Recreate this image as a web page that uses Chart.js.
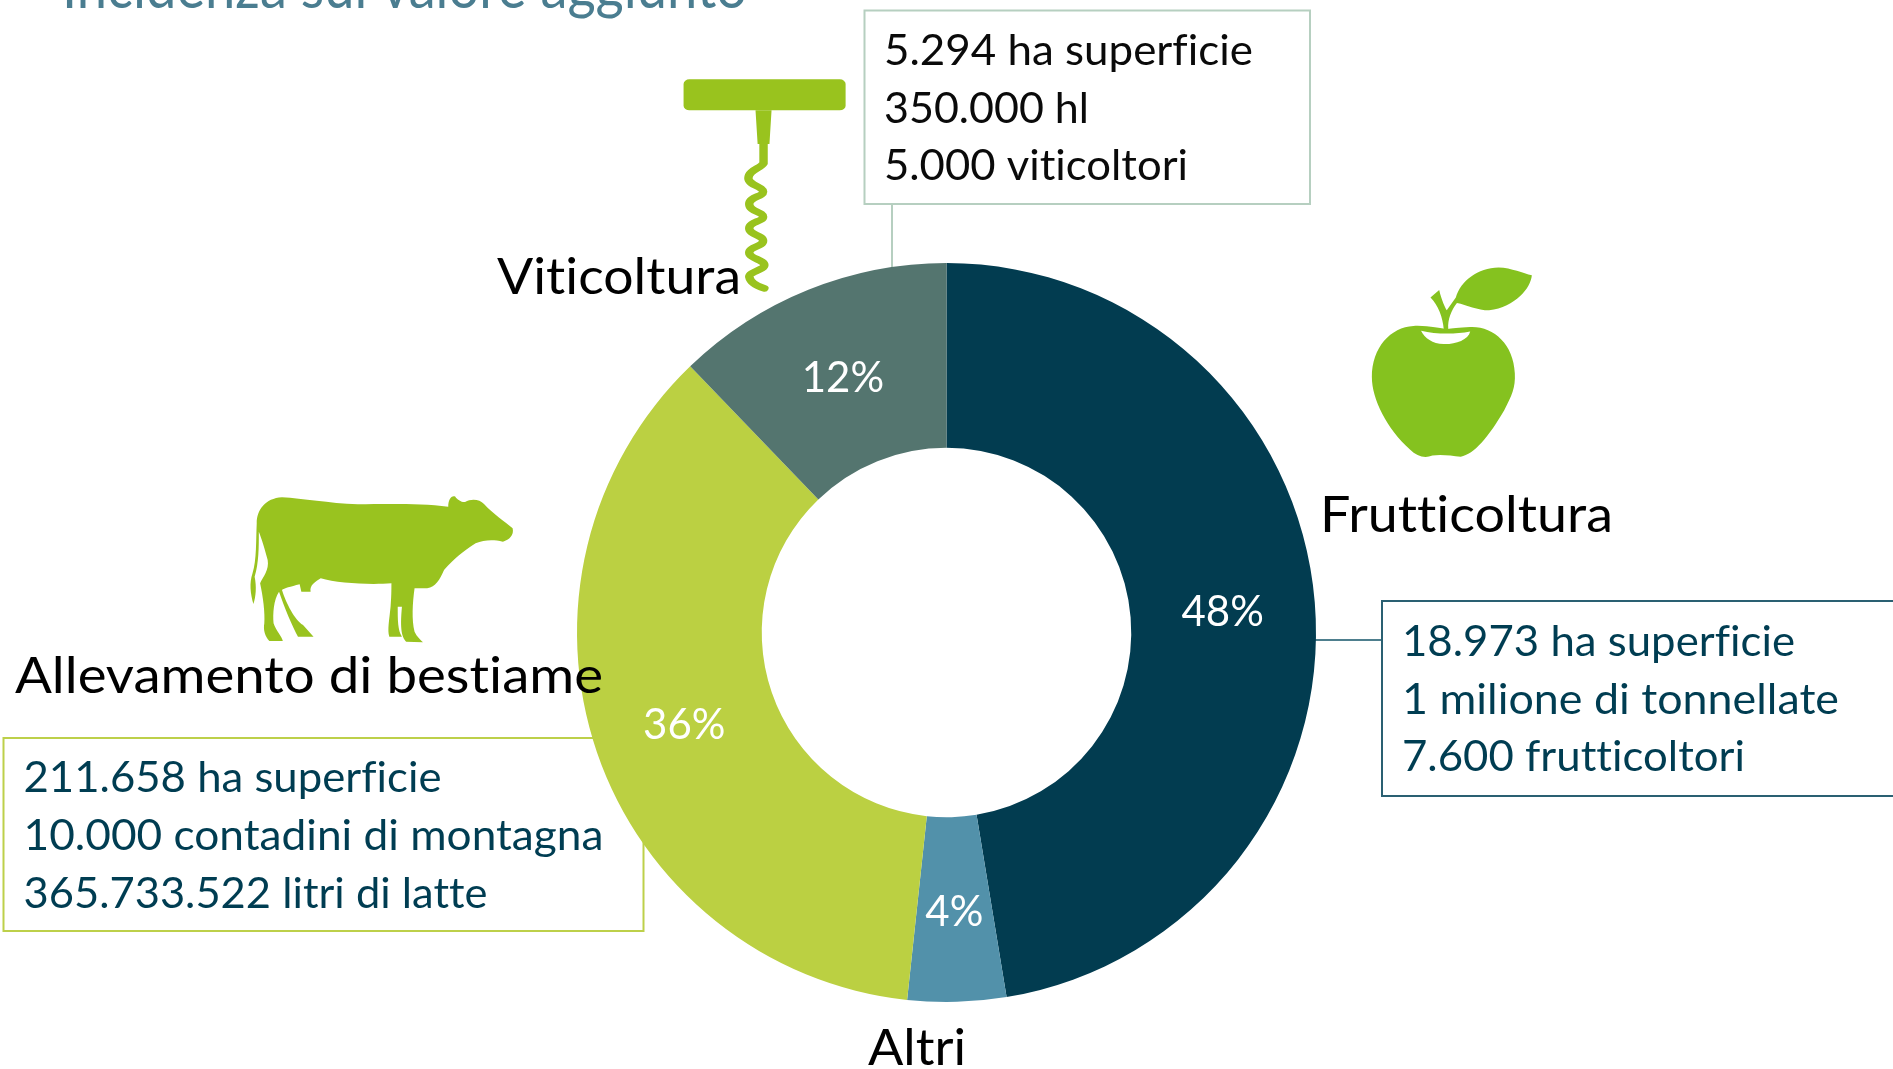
<!DOCTYPE html>
<html lang="it">
<head>
<meta charset="utf-8">
<title>Incidenza sul valore aggiunto</title>
<style>html,body{margin:0;padding:0;background:#fff;overflow:hidden}canvas{display:block}</style>
<script src="https://cdn.jsdelivr.net/npm/chart.js@4"></script>
</head>
<body>
<canvas id="c" width="1893" height="1069"></canvas>
<script>
const categories = ['Frutticoltura', 'Altri', 'Allevamento di bestiame', 'Viticoltura'];
const shares = [47.4, 4.3, 36.1, 12.2];
const percentLabels = ['48%', '4%', '36%', '12%'];
const sliceColours = ['#023c50', '#5291aa', '#bbd042', '#54756f'];
const titleText = 'Incidenza sul valore aggiunto';
const frutticolturaNotes = ['18.973 ha superficie', '1 milione di tonnellate', '7.600 frutticoltori'];
const allevamentoNotes = ['211.658 ha superficie', '10.000 contadini di montagna', '365.733.522 litri di latte'];
const viticolturaNotes = ['5.294 ha superficie', '350.000 hl', '5.000 viticoltori'];

const FONT = 'Lato, Carlito, "Open Sans", sans-serif';

function fit(ctx, text, x, y, width, size, colour) {
  ctx.save();
  ctx.font = size + 'px ' + FONT;
  ctx.letterSpacing = '0.01px';
  ctx.fillStyle = colour;
  ctx.textAlign = 'left';
  ctx.textBaseline = 'alphabetic';
  const k = width / ctx.measureText(text).width;
  ctx.translate(x, y);
  ctx.scale(k, 1);
  ctx.fillText(text, 0, 0);
  ctx.restore();
}

function drawBox(ctx, l, t, r, b, colour) {
  ctx.save();
  ctx.strokeStyle = colour;
  ctx.lineWidth = 2;
  ctx.strokeRect(l, t, r - l, b - t);
  ctx.restore();
}

function line(ctx, x1, y1, x2, y2, colour) {
  ctx.save();
  ctx.strokeStyle = colour;
  ctx.lineWidth = 2;
  ctx.beginPath();
  ctx.moveTo(x1, y1);
  ctx.lineTo(x2, y2);
  ctx.stroke();
  ctx.restore();
}

function drawIcon(ctx, ox, oy, sx, sy, fn) {
  ctx.save();
  ctx.translate(ox, oy);
  ctx.scale(1 / sx, 1 / sy);
  fn();
  ctx.restore();
}

const backdrop = {
  id: 'backdrop',
  beforeDatasetsDraw(chart) {
    const ctx = chart.ctx;
    line(ctx, 892, 204, 892, 285, '#b6cfc0');
    line(ctx, 1300, 640, 1382, 640, '#4e7f8e');
    drawBox(ctx, 864.5, 10.5, 1310, 204, '#b6cfc0');
    drawBox(ctx, 1382, 601, 1900, 796, '#2a6072');
    drawBox(ctx, 3.5, 738, 643.5, 931, '#bdd04a');
  }
};

const overlay = {
  id: 'overlay',
  afterDraw(chart) {
    const ctx = chart.ctx;
    const meta = chart.getDatasetMeta(0);
    const cx = meta.data[0].x, cy = meta.data[0].y;
    const mid = (meta.data[0].innerRadius + meta.data[0].outerRadius) / 2;

    meta.data.forEach((arc, i) => {
      const a = (arc.startAngle + arc.endAngle) / 2;
      ctx.save();
      ctx.font = '42px ' + FONT;
      ctx.fillStyle = '#ffffff';
      ctx.textAlign = 'center';
      ctx.textBaseline = 'middle';
      ctx.fillText(percentLabels[i], cx + Math.cos(a) * mid, cy + Math.sin(a) * mid + 3);
      ctx.restore();
    });

    fit(ctx, titleText, 62, 8, 685, 60, '#4a7d90');

    fit(ctx, categories[0], 1320, 532, 293, 50, '#000');
    fit(ctx, categories[1], 868, 1065, 98, 50, '#000');
    fit(ctx, categories[2], 15, 693, 588, 50, '#000');
    fit(ctx, categories[3], 497, 294, 244, 50, '#000');

    const dark = '#003d52';
    const fWidths = [393, 437, 343];
    frutticolturaNotes.forEach((t, i) => fit(ctx, t, 1402, 656 + i * 57.7, fWidths[i], 42, dark));
    const aWidths = [418, 580, 464];
    allevamentoNotes.forEach((t, i) => fit(ctx, t, 23.5, 792 + i * 58, aWidths[i], 42, dark));
    const vWidths = [369, 205, 304];
    viticolturaNotes.forEach((t, i) => fit(ctx, t, 884, 65 + i * 57.7, vWidths[i], 42, '#0a0a0a'));

    // corkscrew
    drawIcon(ctx, 660, 0, 2.376, 3, () => {
      ctx.fillStyle = '#99c31e';
      ctx.strokeStyle = '#99c31e';
      ctx.beginPath();
      ctx.roundRect(56, 238, 385, 93, 14);
      ctx.fill();
      ctx.beginPath();
      ctx.moveTo(227, 331); ctx.lineTo(265, 331); ctx.lineTo(260, 432); ctx.lineTo(232, 432);
      ctx.closePath();
      ctx.fill();
      ctx.lineWidth = 20;
      ctx.lineCap = 'round';
      ctx.beginPath();
      ctx.moveTo(246, 432);
      ctx.lineTo(246, 490);
      ctx.bezierCurveTo(240, 505, 210, 510, 210, 535);
      ctx.bezierCurveTo(210, 555, 245, 560, 245, 575);
      ctx.bezierCurveTo(245, 590, 212, 590, 212, 612);
      ctx.bezierCurveTo(212, 635, 245, 635, 245, 650);
      ctx.bezierCurveTo(245, 665, 212, 665, 212, 685);
      ctx.bezierCurveTo(212, 705, 245, 705, 245, 722);
      ctx.bezierCurveTo(245, 740, 212, 740, 212, 758);
      ctx.bezierCurveTo(212, 775, 248, 780, 248, 795);
      ctx.bezierCurveTo(248, 810, 212, 815, 212, 830);
      ctx.bezierCurveTo(215, 850, 235, 860, 248, 865);
      ctx.stroke();
    });

    // apple
    drawIcon(ctx, 1300, 240, 2.644, 2.7, () => {
      ctx.fillStyle = '#85c21f';
      ctx.fill(new Path2D('M300 232C240 235 190 290 190 370C190 430 230 510 290 565C310 585 330 590 350 582C370 578 400 582 425 585C460 580 500 530 540 460C560 420 570 400 568 360C565 280 510 232 450 235C420 236 400 240 390 240C370 240 340 230 300 232Z'));
      ctx.fill(new Path2D('M345 155L368 135C375 165 383 180 388 190L412 155C425 110 470 75 525 74C560 75 590 90 613 95C610 130 570 180 500 190C470 190 440 175 415 170C400 190 390 215 392 240L380 240C378 210 365 175 345 155Z'));
      ctx.fillStyle = '#ffffff';
      ctx.fill(new Path2D('M320 245C360 255 410 255 450 247C445 270 410 282 380 281C350 280 330 265 320 245Z'));
    });

    // cow
    drawIcon(ctx, 0, 480, 2.376, 3, () => {
      ctx.fillStyle = '#99c31f';
      ctx.fill(new Path2D('M610 130C610 90 630 55 670 52C720 55 780 70 850 73C920 72 1000 70 1065 80C1065 60 1072 45 1082 50C1085 58 1098 68 1105 66C1120 55 1140 58 1150 72C1170 100 1200 125 1218 145C1222 165 1210 180 1195 185C1170 178 1150 180 1130 190C1100 215 1080 235 1055 270C1045 300 1035 320 1015 325L985 325C980 370 978 420 985 455C990 470 1000 480 1005 487L965 485C955 470 950 450 955 380L945 380C945 420 945 450 955 470L925 470C920 450 925 420 928 380C930 350 930 330 930 310C880 315 800 310 762 295C750 305 735 315 738 335L716 335L712 313C690 320 675 325 670 330C680 370 700 420 720 435L745 470L708 470C695 440 675 380 663 335C650 360 648 400 650 430C655 450 670 470 672 483L640 483C630 470 625 450 628 430C630 400 625 350 618 310C625 290 640 270 636 240C630 210 620 170 615 155C615 200 615 250 605 290C610 320 608 350 602 372C595 340 592 310 600 280C610 240 608 180 610 130Z'));
    });
  }
};

new Chart(document.getElementById('c'), {
  type: 'doughnut',
  data: {
    labels: categories,
    datasets: [{
      data: shares,
      backgroundColor: sliceColours,
      borderWidth: 0,
      hoverOffset: 0
    }]
  },
  options: {
    responsive: false,
    animation: false,
    cutout: '50%',
    layout: { padding: { top: 263, bottom: 67, left: 0, right: 0 } },
    plugins: { legend: { display: false }, tooltip: { enabled: false }, title: { display: false } }
  },
  plugins: [backdrop, overlay]
});
</script>
</body>
</html>
